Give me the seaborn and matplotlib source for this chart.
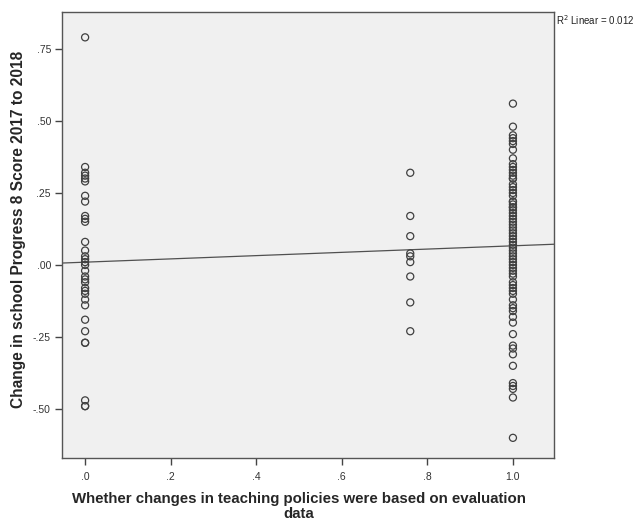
import numpy as np
import pandas as pd
import matplotlib
matplotlib.use("Agg")
import matplotlib.pyplot as plt
import seaborn as sns

group0 = [0.79, 0.34, 0.32, 0.31, 0.30, 0.29, 0.24, 0.22, 0.17, 0.16, 0.15, 0.08,
          0.05, 0.03, 0.02, 0.01, 0.00, -0.02, -0.04, -0.05, -0.06, -0.08, -0.09,
          -0.10, -0.12, -0.14, -0.19, -0.23, -0.27, -0.27, -0.47, -0.49, -0.49]
group_mid = [0.32, 0.17, 0.10, 0.04, 0.03, 0.01, -0.04, -0.13, -0.23]
group1 = [0.56, 0.48, 0.45, 0.44, 0.43, 0.42, 0.40, 0.37, 0.35, 0.34, 0.33, 0.32,
          0.31, 0.30, 0.30, 0.28, 0.27, 0.26, 0.25, 0.24, 0.22, 0.22, 0.21, 0.20,
          0.20, 0.19, 0.18, 0.17, 0.16, 0.15, 0.14, 0.13, 0.12, 0.11, 0.10, 0.09,
          0.08, 0.07, 0.06, 0.05, 0.04, 0.03, 0.02, 0.01, 0.00, -0.01, -0.02,
          -0.03, -0.04, -0.06, -0.07, -0.08, -0.09, -0.10, -0.12, -0.14, -0.15,
          -0.16, -0.18, -0.20, -0.24, -0.28, -0.29, -0.31, -0.35, -0.41, -0.42,
          -0.43, -0.46, -0.60]
x_levels = [0.0, 0.76, 1.0]

x_ticks = [0.0, 0.2, 0.4, 0.6, 0.8, 1.0]
x_tick_labels = [".0", ".2", ".4", ".6", ".8", "1.0"]
y_ticks = [-0.50, -0.25, 0.00, 0.25, 0.50, 0.75]
y_tick_labels = ["-.50", "-.25", ".00", ".25", ".50", ".75"]

xs = [x_levels[0]] * len(group0) + [x_levels[1]] * len(group_mid) + [x_levels[2]] * len(group1)
ys = group0 + group_mid + group1
df = pd.DataFrame({"x": xs, "y": ys})

sns.set_style("white")
plt.rcParams['font.family'] = ['Liberation Sans', 'DejaVu Sans']

fig = plt.figure(figsize=(6.43, 5.26), dpi=100)
ax = fig.add_axes([62/643, 68/526, 492/643, 446/526])
ax.set_facecolor("#f0f0f0")

xlim = (-0.054, 1.096)
ylim = (-0.670, 0.878)
ax.set_xlim(xlim)
ax.set_ylim(ylim)

sns.scatterplot(data=df, x="x", y="y", ax=ax, marker="o", s=26,
                facecolor="none", edgecolor="#404040", linewidth=0.9, zorder=3)
sns.regplot(data=df, x="x", y="y", ax=ax, scatter=False, ci=None, truncate=False,
            line_kws=dict(color="#505050", lw=0.9, zorder=2))
ax.set_xlim(xlim)
ax.set_ylim(ylim)

ax.set_xticks(x_ticks)
ax.set_xticklabels(x_tick_labels)
ax.set_yticks(y_ticks)
ax.set_yticklabels(y_tick_labels)
ax.tick_params(axis="both", direction="out", length=5, width=1, color="#444444",
               labelsize=7.5, labelcolor="#333333", bottom=True, left=True)
ax.tick_params(axis="x", pad=5)
ax.tick_params(axis="y", pad=3)
for s in ax.spines.values():
    s.set_color("#555555")
    s.set_linewidth(1.0)

ax.set_xlabel("Whether changes in teaching policies were based on evaluation\ndata",
              fontsize=10.8, fontweight="bold", labelpad=7, linespacing=1.15, x=0.482)
ax.set_ylabel("Change in school Progress 8 Score 2017 to 2018",
              fontsize=11.2, fontweight="bold", labelpad=5, y=0.513)

fig.text(556/643, 1 - 20/526, "R$^2$ Linear = 0.012", fontsize=7, color="#222222",
         ha="left", va="center")

fig.savefig("out.png", dpi=100)
